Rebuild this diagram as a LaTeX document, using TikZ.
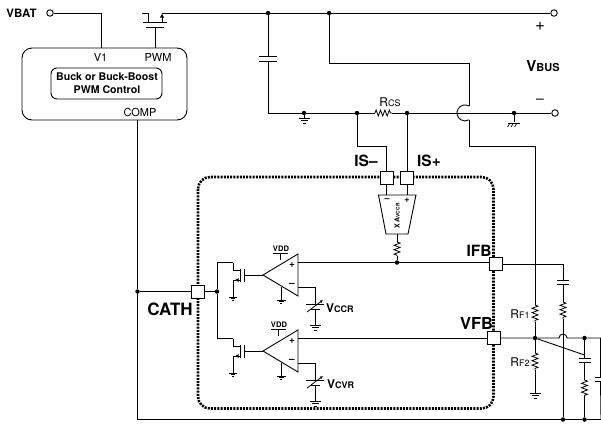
\documentclass[tikz,border=0pt]{standalone}
\usepackage{fontspec}
\setmainfont{TeX Gyre Heros}
\usetikzlibrary{decorations.pathmorphing,arrows.meta}

\tikzset{
  wire/.style={line width=0.9pt},
  res/.style={line width=0.8pt,decorate,decoration={zigzag,segment length=4.4pt,amplitude=3pt}},
  dot/.style={circle,fill=black,inner sep=0pt,minimum size=4.5pt},
  term/.style={circle,draw,fill=white,line width=0.9pt,inner sep=0pt,minimum size=6.5pt},
  pinbox/.style={draw,fill=white,line width=0.9pt,inner sep=0pt,minimum size=13pt},
  lab/.style={inner sep=0pt,font=\fontsize{11}{12}\selectfont},
  blab/.style={inner sep=0pt,font=\fontsize{15.5}{16}\selectfont\bfseries},
  pics/gnd/.style={code={\draw[line width=0.8pt] (-5.5,0)--(5.5,0) (-3.5,2.5)--(3.5,2.5) (-1.5,5)--(1.5,5);}},
  pics/gndsmall/.style={code={\draw[line width=0.9pt] (-4.5,0)--(4.5,0) (-2.5,1.6)--(2.5,1.6) (-1,3)--(1,3);}}
}
\newcommand{\subl}[1]{{\fontsize{9}{9}\selectfont #1}}

\begin{document}
\begin{tikzpicture}[x=1pt,y=-1pt]
\useasboundingbox (0,0) rectangle (601,424);

% controller
\draw[wire,rounded corners=10pt] (22,48) rectangle (187,120);
\draw[wire,rounded corners=6pt] (51,68) rectangle (162,99);
\node[inner sep=0pt,align=center,font=\fontsize{10.6}{12.5}\selectfont\bfseries] (ctrl) at (107,83) {Buck or Buck-Boost\\PWM Control};
\node[lab] (v1) at (100.5,57) {V1};
\node[lab] (pwm) at (158,57) {PWM};
\node[lab] (comp) at (140,112) {COMP};
\node[inner sep=0pt,font=\fontsize{11.5}{12}\selectfont\bfseries] (vbatl) at (21.5,13) {VBAT};
\node[term] (vbat) at (50,13) {};
\coordinate (v1top) at (101,48);
\coordinate (pwmtop) at (155,48);
\coordinate (comptop) at (137.5,120);
\draw[wire] (vbat) -| (v1top);

% switch
\coordinate (swd) at (162,13);
\draw[wire] (142,13) -- (148,13) -- (148,22);
\draw[line width=1.3pt] (143,22.5) -- (167,22.5);
\draw[line width=1pt] (146,27) -- (164,27);
\draw[wire] (pwmtop) -- (155,27);
\draw[wire,-{Latex[length=4pt,width=4.5pt]}] (162,22) -- (162,13.5);

% output side
\node[dot] (topa) at (268,13) {};
\node[dot] (topb) at (329,13) {};
\node[term] (vbusp) at (554,13) {};
\node[term] (vbusn) at (555,113) {};
\node[dot] (railg) at (304,113) {};
\node[dot] (isnt) at (357,113) {};
\node[dot] (ispt) at (407,113) {};
\node[dot] (railc) at (514,113) {};
\coordinate (raill) at (268,113);
\draw[wire] (swd) -- (topa) -- (topb) -- (vbusp);
\draw[wire] (topa) -- (268,56) (268,61) -- (raill);
\draw[line width=1pt] (259,56) -- (277,56) (259,61) -- (277,61);
\draw[wire] (raill) -- (railg) -- (isnt) -- (375,113);
\draw[res] (375,113) -- (392,113);
\draw[wire] (392,113) -- (ispt) -- (railc) -- (vbusn);
\draw[wire] (railg) -- ++(0,5) pic{gnd};
\draw[wire] (railc) -- (514,122) (508,123) -- (520,123);
\draw[line width=0.7pt] (510,123) -- (507.5,127) (513.5,123) -- (511,127) (517,123) -- (514.5,127);
\node[inner sep=0pt,font=\fontsize{17}{17}\selectfont] (plus) at (540,26) {+};
\node[inner sep=0pt,font=\fontsize{14}{14}\selectfont] (minus) at (540,101) {--};
\node[inner sep=0pt,font=\fontsize{15}{15}\selectfont\bfseries] (vbus) at (543,66) {V{\fontsize{11}{11}\selectfont BUS}};
\node[lab,font=\fontsize{12}{12}\selectfont] (rcs) at (390,102) {R\subl{CS}};

% sense wire with hop
\coordinate (fbtop) at (535,146);
\draw[wire] (topb) -- (329,63) -- (469,63) -- (469,106);
\draw[wire] (469,106) arc[start angle=60,end angle=300,radius=8pt] coordinate (hopb);
\draw[wire] (hopb) -- (469,146) -- (fbtop);

% internal block
\draw[line width=2.6pt,dash pattern=on 2pt off 1.2pt,rounded corners=12pt] (198,177) rectangle (493.5,408.5);
\node[pinbox] (pinisn) at (386.5,177.5) {};
\node[pinbox] (pinisp) at (407,177.5) {};
\node[pinbox] (pincath) at (197.5,291.5) {};
\node[pinbox] (pinifb) at (495.5,264) {};
\node[pinbox] (pinvfb) at (493.5,338) {};
\node[blab] (isnl) at (366,161) {IS--};
\node[blab] (ispl) at (429,161) {IS+};
\node[blab,font=\fontsize{17}{18}\selectfont\bfseries] (cathlab) at (170,309) {CATH};
\node[blab] (ifbl) at (479,251) {IFB};
\node[blab,font=\fontsize{16.5}{18}\selectfont\bfseries] (vfbl) at (476.5,323) {VFB};
\draw[wire] (isnt) -- (357,146) -| (pinisn);
\draw[wire] (ispt) -- (pinisp);

% current sense amp
\draw[wire] (378.5,195) -- (416,195) -- (408,234) -- (386,234) -- cycle;
\coordinate (ampout) at (397,234);
\draw[wire] (pinisn) -- (386.5,195) (pinisp) -- (407,195);
\node[inner sep=0pt,font=\fontsize{9}{9}\selectfont\bfseries] (ampm) at (387,200.5) {--};
\node[inner sep=0pt,font=\fontsize{9}{9}\selectfont\bfseries] (ampp) at (407,200.5) {+};
\node[rotate=90,inner sep=0pt,font=\fontsize{7}{7}\selectfont\bfseries] (ampl) at (397,216) {X A{\fontsize{5}{5}\selectfont VCCR}};
\node[dot] (ifbt) at (397,262.5) {};
\draw[wire] (ampout) -- (397,242);
\draw[res] (397,242) -- (397,256);
\draw[wire] (397,256) -- (ifbt);

% the two loop amps
\node[dot] (cathr) at (217,291.5) {};
\node[dot] (cathj) at (137.5,291.5) {};
\draw[wire] (cathj) -- (pincath) -- (cathr);
\coordinate (drna) at (233,262.5);
\coordinate (drnb) at (233,338.5);
\draw[wire] (drna) -| (cathr) |- (drnb);
\foreach \ch/\dy/\dx/\lab/\ldx in {ccr/0/0/CCR/0,cvr/76/-2/CVR/1}{
  \begin{scope}[yshift=-\dy pt]
    \draw[wire] (233,262.5) -- (233,270) -- (240,270);
    \draw[line width=1pt] (240,269) -- (240,282);
    \draw[line width=1pt] (244,269) -- (244,282);
    \draw[wire] (244,275) -- (263,275);
    \draw[wire] (233,280) -- (233,297) pic[scale=0.7]{gnd};
    \draw[wire,{Latex[length=3.5pt,width=4pt]}-] (235,280) -- (240,280);
    \draw[wire] (233,280) -- (236,280);
    \draw[wire] (263,275) -- (298,254) -- (298,296) -- cycle;
    \node[inner sep=0pt,font=\fontsize{10}{10}\selectfont\bfseries] (pl\ch) at (292,265) {+};
    \node[inner sep=0pt,font=\fontsize{10}{10}\selectfont\bfseries] (mi\ch) at (292,285) {--};
    \draw[wire] (280.5+\dx,254) -- (280.5+\dx,260);
    \draw[wire] (273+\dx,253.5) -- (288+\dx,253.5);
    \node[inner sep=0pt,font=\fontsize{7.6}{8}\selectfont\bfseries] (vdd\ch) at (281+\dx,249) {VDD};
    \draw[wire] (281,287) -- (281,300) pic{gndsmall};
    \draw[wire] (298,287) -- (315,287) -- (315,304);
    \draw[line width=1pt] (306,304) -- (324,304) (310,309) -- (320,309);
    \draw[line width=0.8pt,-{Latex[length=3pt,width=3pt]}] (307,312) -- (323,300);
    \draw[wire] (315,309) -- (315,325) pic{gnd};
    \node[anchor=west,inner sep=0pt,font=\fontsize{12}{12}\selectfont\bfseries] (v\ch) at (326+\ldx,308) {V{\fontsize{9}{9}\selectfont\lab}};
  \end{scope}
}
\draw[wire] (298,262.5) -- (ifbt) -- (pinifb.west |- ifbt);
\draw[wire] (298,338) -- (pinvfb);

% external network
\node[dot] (fbj) at (535,338) {};
\node[dot] (compj) at (584.5,338) {};
\node[dot] (bota) at (563,419.5) {};
\node[dot] (botb) at (584.5,419.5) {};
\coordinate (botl) at (137.5,419.5);
\coordinate (botr) at (601,419.5);
\draw[wire] (comptop) -- (cathj) -- (botl) -- (bota) -- (botb) -- (botr);
\draw[wire] (fbtop) -- (535,305);
\draw[res] (535,305) -- (535,322);
\draw[wire] (535,322) -- (fbj) -- (535,353);
\draw[res] (535,353) -- (535,370);
\draw[wire] (535,370) -- (535,393) pic{gnd};
\node[lab,font=\fontsize{12}{12}\selectfont] (rf1) at (520,314) {R\subl{F1}};
\node[lab,font=\fontsize{12}{12}\selectfont] (rf2) at (520,362) {R\subl{F2}};
% integrator branch
\draw[wire] (pinifb) -- (563,264) -- (563,280);
\draw[line width=1pt] (557,280) -- (569,280) (557,284) -- (569,284);
\draw[wire] (563,284) -- (563,302);
\draw[res] (563,302) -- (563,319);
\draw[wire] (563,319) -- (bota);
\draw[wire] (pinvfb) -- (fbj) -- (559,338) arc[start angle=180,end angle=0,radius=4pt] -- (compj) -- (601,338);
\draw[wire] (fbj) -- (584.5,355);
\draw[wire] (compj) -- (584.5,358);
\draw[line width=1pt] (578.5,358) -- (590.5,358) (578.5,362) -- (590.5,362);
\draw[wire] (584.5,362) -- (584.5,380);
\draw[res] (584.5,380) -- (584.5,396);
\draw[wire] (584.5,396) -- (botb);
\draw[wire] (600.5,338) -- (600.5,377) (600.5,381) -- (botr);
\draw[line width=1pt] (595,377) -- (601,377) (595,381) -- (601,381);
\end{tikzpicture}
\end{document}
